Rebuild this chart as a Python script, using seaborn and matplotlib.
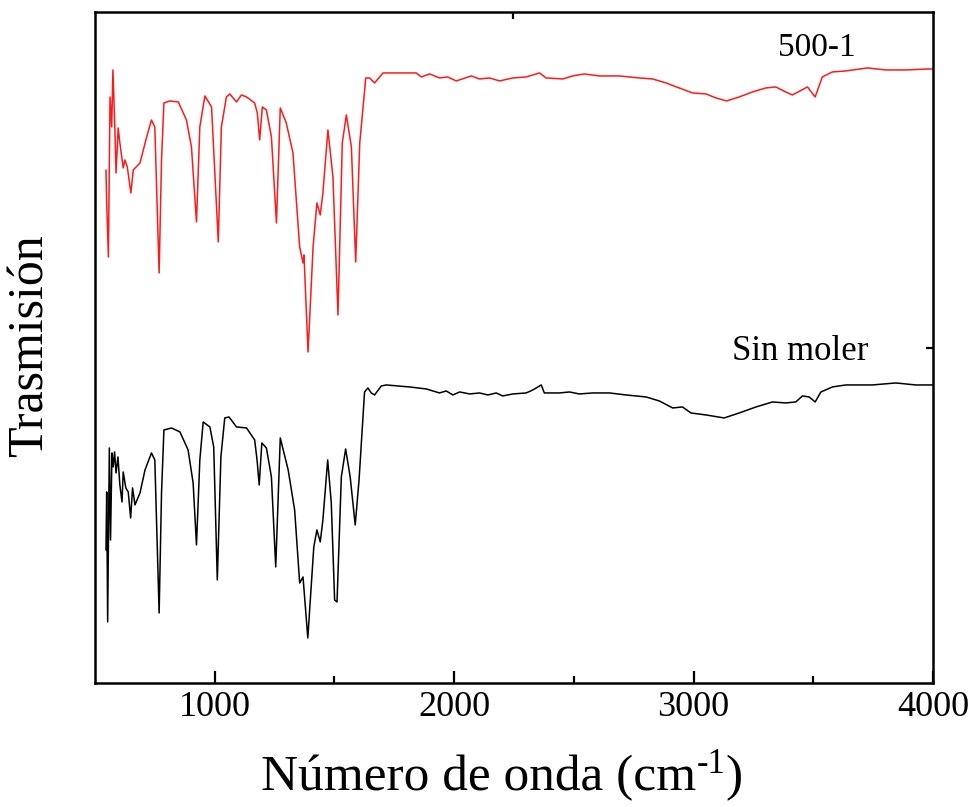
import numpy as np
import pandas as pd
import matplotlib
matplotlib.use("Agg")
import matplotlib.pyplot as plt
import seaborn as sns

# --- FTIR spectra (arbitrary transmission units) ---
wn_500 = [546, 549, 556, 563, 570, 575, 583, 588, 597, 604, 618, 625, 635, 650, 660,
          688, 716, 736, 750, 768, 778, 788, 813, 848, 882, 903, 924, 938, 959, 987,
          1015, 1028, 1049, 1063, 1091, 1112, 1133, 1167, 1178, 1188, 1199, 1216, 1237,
          1258, 1274, 1299, 1327, 1355, 1369, 1373, 1390, 1411, 1427, 1441, 1452, 1473,
          1494, 1515, 1533, 1550, 1571, 1589, 1606, 1631, 1647, 1668, 1703, 1772, 1842,
          1863, 1898, 1939, 1973, 2009, 2072, 2106, 2148, 2190, 2245, 2301, 2357, 2384,
          2454, 2495, 2544, 2607, 2690, 2773, 2829, 2885, 2940, 2996, 3052, 3094, 3138,
          3191, 3246, 3302, 3344, 3385, 3413, 3476, 3508, 3538, 3580, 3636, 3726, 3803,
          3886, 3984, 4000]
tr_500 = [513, 480, 426, 586, 556, 613, 556, 510, 555, 540, 515, 523, 516, 490, 513,
          520, 546, 563, 556, 410, 523, 580, 582, 581, 563, 536, 461, 556, 587, 576,
          441, 556, 586, 589, 581, 588, 586, 580, 570, 543, 576, 573, 546,
          460, 575, 560, 530, 436, 420, 428, 331, 436, 480, 468, 490, 553,
          506, 368, 540, 568, 536, 421, 540, 605, 605, 600, 610, 610, 610,
          606, 609, 605, 606, 602, 607, 604, 605, 602, 605, 606, 610, 605,
          604, 607, 609, 607, 607, 605, 604, 600, 595, 590, 589, 585, 582,
          586, 591, 595, 596, 591, 588, 596, 586, 606, 611, 612, 615, 613,
          613, 614, 614]

wn_sin = [546, 549, 553, 560, 565, 571, 576, 582, 588, 596, 604, 613, 618, 629, 639,
          649, 657, 667, 688, 709, 736, 750, 768, 778, 788, 820, 855, 889, 910, 924,
          938, 952, 980, 996, 1011, 1026, 1042, 1060, 1091, 1133, 1167, 1177, 1186,
          1197, 1216, 1237, 1255, 1274, 1307, 1334, 1355, 1369, 1389, 1414, 1427, 1441,
          1452, 1472, 1487, 1501, 1511, 1529, 1547, 1566, 1587, 1603, 1626, 1640, 1654,
          1668, 1696, 1717, 1814, 1884, 1939, 1967, 1995, 2023, 2065, 2106, 2141, 2176,
          2203, 2245, 2301, 2329, 2364, 2377, 2440, 2482, 2523, 2579, 2649, 2718, 2802,
          2857, 2913, 2954, 2989, 3052, 3128, 3191, 3261, 3330, 3385, 3427, 3455, 3483,
          3508, 3532, 3580, 3636, 3747, 3845, 3928, 3984, 4000]
tr_sin = [133, 191, 61, 235, 143, 230, 216, 231, 210, 226, 198, 181, 211, 195, 191,
          165, 195, 178, 190, 213, 230, 223, 70, 190, 253, 255, 251, 233, 200, 138,
          223, 261, 256, 236, 103, 226, 265, 266, 256, 255, 243, 223, 198,
          240, 235, 206, 116, 245, 213, 173, 100, 106, 45, 136, 153, 141,
          163, 223, 180, 83, 81, 206, 234, 206, 158, 203, 291, 295, 290,
          288, 297, 298, 296, 294, 290, 292, 288, 291, 289, 290, 288, 290,
          287, 289, 290, 293, 298, 290, 290, 291, 289, 290, 290, 288, 286,
          282, 275, 276, 270, 268, 265, 270, 276, 281, 280, 281, 287, 286,
          281, 291, 296, 298, 298, 300, 298, 298, 298]

sns.set_theme(style="ticks")
plt.rcParams['font.family'] = ['Liberation Serif', 'DejaVu Serif']
plt.rcParams['text.color'] = 'black'
plt.rcParams['xtick.color'] = 'black'
plt.rcParams['ytick.color'] = 'black'

fig = plt.figure(figsize=(9.71, 8.07), dpi=100)
ax = fig.add_axes([0.0978, 0.1537, 0.8630, 0.8315])

sns.lineplot(x=wn_500, y=tr_500, color='#ff1a1a', lw=1.1, estimator=None, ax=ax)
sns.lineplot(x=wn_sin, y=tr_sin, color='black', lw=1.1, estimator=None, ax=ax)

ax.set_xlim(500, 4000)
ax.set_ylim(0, 671)

ax.text(3516, 635, '500-1', fontsize=24, ha='center', va='center')
ax.text(3445, 331, 'Sin moler', fontsize=25, ha='center', va='center')

# bottom axis: inward ticks, minor every 500
ax.set_xticks([1000, 2000, 3000, 4000])
ax.set_xticks([1500, 2500, 3500], minor=True)
ax.tick_params(axis='x', which='major', direction='in', length=9, width=1.6,
               labelsize=26, pad=6)
ax.tick_params(axis='x', which='minor', direction='in', length=5, width=1.6)
ax.set_yticks([])

# lone ticks on the top and right frame
sec_top = ax.secondary_xaxis('top')
sec_top.set_xticks([2245])
sec_top.set_xticklabels([])
sec_top.tick_params(direction='in', length=5, width=1.6)
sec_top.spines['top'].set_visible(False)
sec_right = ax.secondary_yaxis('right')
sec_right.set_yticks([335])
sec_right.set_yticklabels([])
sec_right.tick_params(direction='in', length=5, width=1.6)
sec_right.spines['right'].set_visible(False)

for s in ax.spines.values():
    s.set_linewidth(1.8)
    s.set_color('black')

# x label built from pieces so the superscript keeps a plain hyphen
renderer = fig.canvas.get_renderer()
parts = [('Número de onda (cm', 37, 0), ('-1', 25, 17), (')', 37, 0)]
widths = []
for txt, fs, _ in parts:
    t = fig.text(0, 0, txt, fontsize=fs)
    widths.append(t.get_window_extent(renderer).width)
    t.remove()
W, H = fig.bbox.width, fig.bbox.height
x_px = 502 - sum(widths) / 2
base_px = 807 - 790
for (txt, fs, dy), w in zip(parts, widths):
    fig.text(x_px / W, (base_px + dy) / H, txt, fontsize=fs,
             ha='left', va='baseline')
    x_px += w

fig.text(0.031, 0.572, 'Trasmisión', fontsize=36, rotation=90,
         ha='center', va='center')

fig.savefig('out.png', dpi=100, facecolor='white')
